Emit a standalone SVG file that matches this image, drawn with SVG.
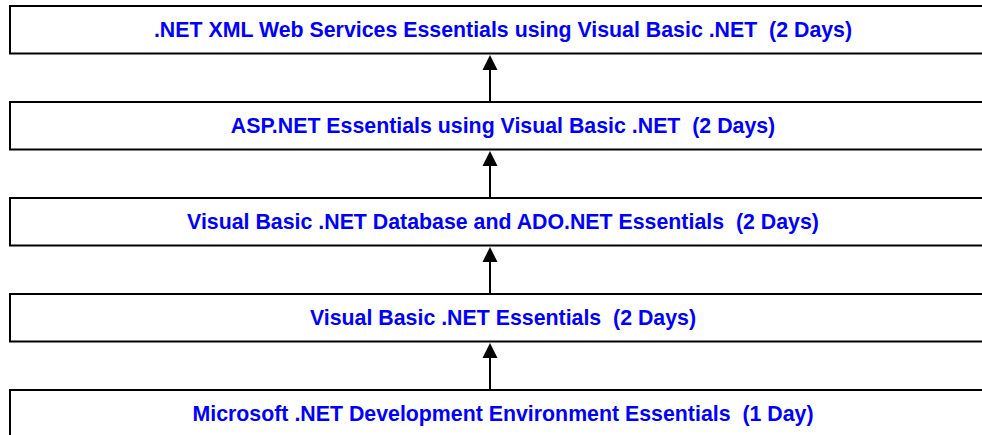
<svg xmlns="http://www.w3.org/2000/svg" width="982" height="435" viewBox="0 0 982 435">
<style>
.box{fill:#ffffff;stroke:#000000;stroke-width:2}
.lbl{font-family:"Liberation Sans",Arial,sans-serif;font-weight:bold;font-size:21.33px;fill:#0000ff;text-anchor:middle}
.conn{stroke:#000000;stroke-width:2;fill:none}
.head{fill:#000000}
</style>
<rect width="982" height="435" fill="#ffffff"/>
<g id="connectors">
<line class="conn" x1="490" y1="68" x2="490" y2="102"/>
<polygon class="head" points="490,55 482.5,70 497.5,70"/>
<line class="conn" x1="490" y1="164" x2="490" y2="198"/>
<polygon class="head" points="490,151 482.5,166 497.5,166"/>
<line class="conn" x1="490" y1="260" x2="490" y2="294"/>
<polygon class="head" points="490,247 482.5,262 497.5,262"/>
<line class="conn" x1="490" y1="356" x2="490" y2="390"/>
<polygon class="head" points="490,343 482.5,358 497.5,358"/>
</g>
<g id="node1">
<rect class="box" x="10" y="6" width="986" height="47.5"/>
<text class="lbl" x="503" y="36.7" xml:space="preserve">.NET XML Web Services Essentials using Visual Basic .NET  (2 Days)</text>
</g>
<g id="node2">
<rect class="box" x="10" y="102" width="986" height="47.5"/>
<text class="lbl" x="503" y="132.7" xml:space="preserve">ASP.NET Essentials using Visual Basic .NET  (2 Days)</text>
</g>
<g id="node3">
<rect class="box" x="10" y="198" width="986" height="47.5"/>
<text class="lbl" x="503" y="228.7" xml:space="preserve">Visual Basic .NET Database and ADO.NET Essentials  (2 Days)</text>
</g>
<g id="node4">
<rect class="box" x="10" y="294" width="986" height="47.5"/>
<text class="lbl" x="503" y="324.7" xml:space="preserve">Visual Basic .NET Essentials  (2 Days)</text>
</g>
<g id="node5">
<rect class="box" x="10" y="390" width="986" height="47.5"/>
<text class="lbl" x="503" y="420.7" xml:space="preserve">Microsoft .NET Development Environment Essentials  (1 Day)</text>
</g>
</svg>
